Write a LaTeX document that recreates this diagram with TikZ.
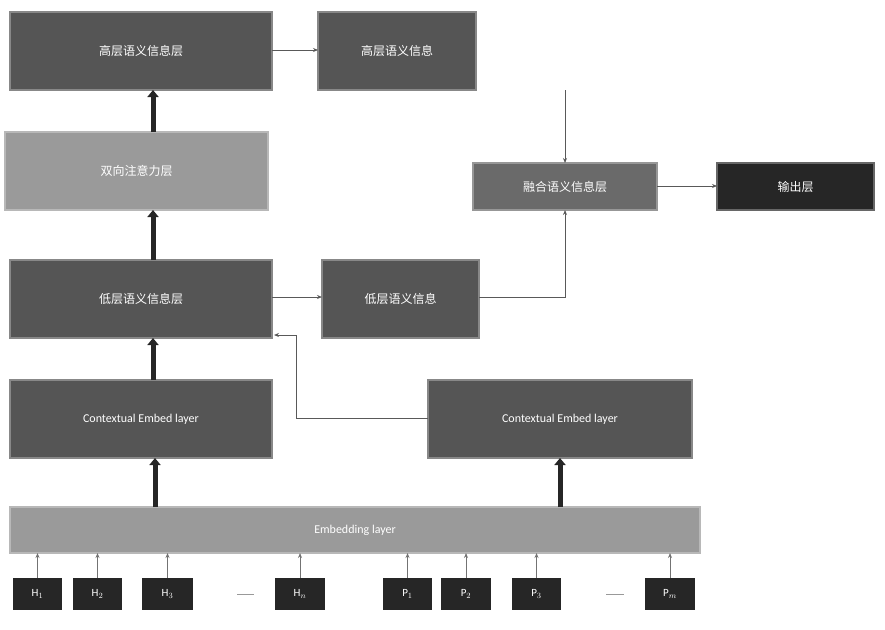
\documentclass[tikz,border=0pt]{standalone}
\usepackage{fontspec}
\setmainfont{Carlito}
\newfontfamily\cjk{Noto Sans CJK SC}
\usetikzlibrary{arrows.meta}
\definecolor{dk}{HTML}{555555}
\definecolor{lt}{HTML}{9A9A9A}
\definecolor{md}{HTML}{6A6A6A}
\definecolor{bk}{HTML}{262626}
\begin{document}
\begin{tikzpicture}[x=1pt,y=-1pt,
 box/.style={draw=#1!70!white,line width=1.2pt,fill=#1,text=white,font=\cjk\fontsize{12}{14}\selectfont},
 inp/.style={fill=bk,text=white,font=\fontsize{11}{13}\selectfont},
 thick/.style={line width=5pt,draw=black!85,-{Triangle[length=7pt,width=11pt]}},
 thin/.style={draw=black!65,line width=1pt,-{Stealth[length=5pt,width=4pt]}}]
\useasboundingbox (0,0) rectangle (885,629);
\def\bx#1#2#3#4#5#6#7{\path[box=#6] (#2,#3) rectangle (#4,#5) node[midway,text=white,font=\cjk\fontsize{12}{14}\selectfont] {#7}; \coordinate (#1) at (#2,#3);}
\path[box=dk] (10,12) rectangle node (A) {高层语义信息层} (272,90);
\path[box=dk] (318,12) rectangle node (B) {高层语义信息} (476,90);
\path[box=lt] (5,132) rectangle node (C) {双向注意力层} (268,210);
\path[box=md] (473,163) rectangle node (F) {融合语义信息层} (657,210);
\path[box=bk] (717,163) rectangle node (O) {输出层} (874,210);
\path[box=dk] (10,260) rectangle node (D) {低层语义信息层} (272,338);
\path[box=dk] (322,260) rectangle node (E) {低层语义信息} (479,338);
\path[box=dk] (10,380) rectangle node[font=\fontsize{12}{14}\selectfont] (G) {Contextual Embed layer} (272,458);
\path[box=dk] (428,380) rectangle node[font=\fontsize{12}{14}\selectfont] (H) {Contextual Embed layer} (692,458);
\path[box=lt] (10,507) rectangle node[font=\fontsize{12}{14}\selectfont] (M) {Embedding layer} (700,553);
\foreach \n/\a/\b/\t in {h1/13/62/H$_1$,h2/73/122/H$_2$,h3/142/193/H$_3$,hn/275/325/H$_n$,p1/383/432/P$_1$,p2/441/491/P$_2$,p3/512/561/P$_3$,pm/645/695/P$_m$}{
 \path[inp] (\a,578) rectangle node (\n) {\t} (\b,610);
 \draw[thin,draw=black!55] ({(\a+\b)/2},578) -- ({(\a+\b)/2},553);}
\draw[black!40,line width=1pt] (237,594) -- (254,594) (606,594) -- (624,594);
\draw[thick] (153,132) -- (153,90);
\draw[thick] (153,260) -- (153,210);
\draw[thick] (153,380) -- (153,338);
\draw[thick] (155,507) -- (155,458);
\draw[thick] (560,507) -- (560,458);
\draw[thin] (272,50) -- (318,50);
\draw[thin] (565,90) -- (565,163);
\draw[thin] (272,297) -- (322,297);
\draw[thin] (479,297) -| (565,210);
\draw[thin] (657,186) -- (717,186);
\draw[thin] (428,418) -| (296,335) -- (274,335);
\end{tikzpicture}
\end{document}
